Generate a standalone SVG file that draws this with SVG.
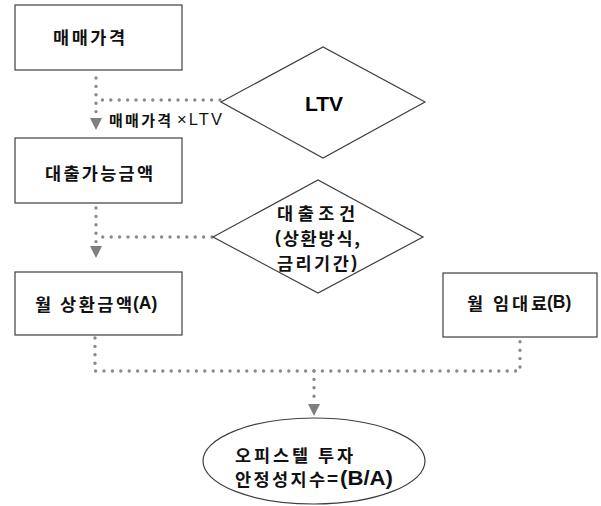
<svg xmlns="http://www.w3.org/2000/svg" width="601" height="506" viewBox="0 0 601 506">
<style>
.box{fill:#fff;stroke:#3f3f3f;stroke-width:1.2}
.k{font-family:"Noto Sans CJK KR","Liberation Sans",sans-serif;font-size:17.5px;font-weight:bold;fill:#111}
.b{font-family:"Liberation Sans",Arial,sans-serif;font-weight:bold;font-size:17.5px;fill:#111}
.dot{fill:none;stroke:#8a8a8a;stroke-width:3.4;stroke-linecap:round;stroke-dasharray:0 8.4}
</style>
<defs>
<marker id="arr" markerUnits="userSpaceOnUse" markerWidth="12" markerHeight="13" refX="0" refY="6" orient="auto" viewBox="0 0 12 12">
<path d="M0,0 L12,6 L0,12 z" fill="#7f7f7f"/>
</marker>
</defs>
<g id="connectors">
<path class="dot" d="M96,78 V118" marker-end="url(#arr)"/>
<path class="dot" d="M220,100 H96"/>
<path class="dot" d="M96,208 V246" marker-end="url(#arr)"/>
<path class="dot" d="M212,237 H96"/>
<path class="dot" d="M95,338 V371 H520 V338"/>
<path class="dot" d="M314,371 V404" marker-end="url(#arr)"/>
<text class="k" x="109" y="119" dominant-baseline="central" style="font-size:15px" textLength="62" lengthAdjust="spacing">매매가격</text>
<text x="177" y="119" dominant-baseline="central" style="font-family:'Liberation Sans',Arial,sans-serif;font-size:16.5px;fill:#111" textLength="45" lengthAdjust="spacing">×LTV</text>
</g>
<g id="n1">
<rect class="box" x="15" y="5" width="167" height="65"/>
<text class="k" x="53" y="36" dominant-baseline="central" textLength="72" lengthAdjust="spacing">매매가격</text>
</g>
<g id="n2">
<polygon class="box" points="221,102 323,47 425,102 323,158"/>
<text x="324" y="103" text-anchor="middle" dominant-baseline="central" style="font-family:'Liberation Sans',Arial,sans-serif;font-weight:bold;font-size:21px">LTV</text>
</g>
<g id="n3">
<rect class="box" x="15" y="138" width="167" height="65"/>
<text class="k" x="45" y="172" dominant-baseline="central" textLength="108" lengthAdjust="spacing">대출가능금액</text>
</g>
<g id="n4">
<polygon class="box" points="213,237 318,180 423,237 318,293"/>
<text class="k" x="277" y="212" dominant-baseline="central" textLength="78" lengthAdjust="spacing">대출조건</text>
<text class="k" x="275" y="237" dominant-baseline="central" textLength="85" lengthAdjust="spacing"><tspan class="b">(</tspan>상환방식,</text>
<text class="k" x="277" y="262" dominant-baseline="central" textLength="80" lengthAdjust="spacing">금리기간<tspan class="b">)</tspan></text>
</g>
<g id="n5">
<rect class="box" x="15" y="272" width="167" height="63"/>
<text class="k" x="35" y="303" dominant-baseline="central" textLength="97" lengthAdjust="spacing">월 상환금액</text>
<text class="b" x="133" y="303" dominant-baseline="central">(A)</text>
</g>
<g id="n6">
<rect class="box" x="443" y="273" width="154" height="64"/>
<text class="k" x="467" y="302" dominant-baseline="central" textLength="80" lengthAdjust="spacing">월 임대료</text>
<text class="b" x="547" y="302" dominant-baseline="central">(B)</text>
</g>
<g id="n7">
<ellipse class="box" cx="314" cy="461" rx="111" ry="43"/>
<text class="k" x="235" y="454" dominant-baseline="central" textLength="118" lengthAdjust="spacing">오피스텔 투자</text>
<text class="k" x="235" y="478" dominant-baseline="central" textLength="90" lengthAdjust="spacing">안정성지수</text>
<text class="b" x="327" y="478" dominant-baseline="central" style="font-size:19px">=</text>
<text class="b" x="340" y="478" dominant-baseline="central" style="font-size:19.5px" textLength="53" lengthAdjust="spacingAndGlyphs">(B/A)</text>
</g>
</svg>
